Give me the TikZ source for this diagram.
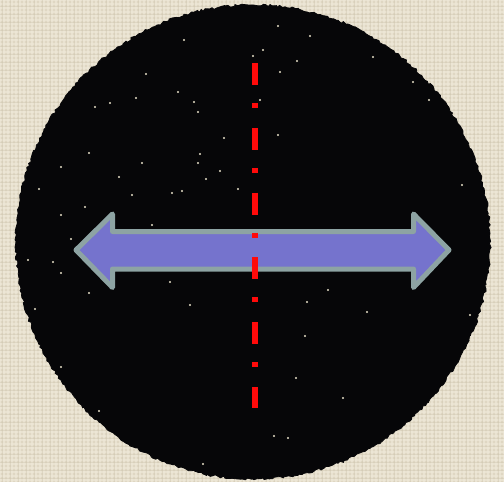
\documentclass[tikz,border=0pt]{standalone}
\usetikzlibrary{decorations.pathmorphing}
\definecolor{bgbeige}{HTML}{DFD7C3}
\definecolor{bglight}{HTML}{EEE8D8}
\definecolor{bgdark}{HTML}{CFC6AF}
\definecolor{discblack}{HTML}{060608}
\definecolor{arrowfill}{HTML}{7573CD}
\definecolor{arrowedge}{HTML}{8DA3A3}
\definecolor{axisred}{HTML}{FF0A0A}
\definecolor{starcol}{HTML}{E6DFC8}
\tikzset{
  disc/.style={fill=discblack, draw=discblack, line width=0.8pt, decorate, decoration={random steps, segment length=2.5pt, amplitude=1.2pt}},
  stardot/.style={fill=starcol, draw=none},
  axisline/.style={draw=axisred, line width=6pt, line cap=butt, dash pattern=on 22pt off 18pt on 5pt off 19.8pt},
  bigarrow/.style={fill=arrowfill, draw=arrowedge, line width=5pt, line join=round}
}
\begin{document}
\begin{tikzpicture}[x=1pt,y=-1pt]
\useasboundingbox (0,0) rectangle (504,482);
% textured background
\fill[bgbeige] (0,0) rectangle (504,482);
\foreach \i in {0,4,...,504} {\draw[bglight, line width=1.3pt, opacity=0.7] (\i,0) -- (\i,482);}
\foreach \j in {0,4,...,482} {\draw[bglight, line width=1.3pt, opacity=0.7] (0,\j) -- (504,\j);}
\foreach \i in {2,10,...,504} {\draw[bgdark, line width=0.8pt, opacity=0.4] (\i,0) -- (\i,482);}
\foreach \j in {6,14,...,482} {\draw[bgdark, line width=0.8pt, opacity=0.4] (0,\j) -- (504,\j);}
% black disc
\path[disc] (253,242) circle (237);
% specks
\foreach \p in {(278,26),(184,40),(310,36),(297,61),(146,74),(178,92),(136,98),(95,107),(110,103),(194,102),(198,112),(278,135),(224,138),(89,153),(200,154),(198,163),(142,163),(61,167),(220,171),(119,177),(206,179),(182,191),(172,193),(132,195),(238,189),(39,189),(462,185),(85,207),(61,215),(152,225),(71,239),(53,262),(28,260),(61,273),(170,282),(89,293),(328,290),(307,302),(190,305),(367,312),(470,315),(35,309),(305,336),(296,378),(343,398),(99,411),(274,436),(288,438),(203,464),(61,367),(413,82),(429,100),(373,57),(280,72),(260,100),(263,50),(253,56)}
  {\path[stardot] \p circle (1.1);}
% double arrow
\draw[bigarrow] (76,250) -- (112.5,214) -- (112.5,231.5) -- (413.5,231.5) -- (413.5,214)
  -- (449,250) -- (413.5,287.5) -- (413.5,269) -- (112.5,269) -- (112.5,287.5) -- cycle;
% red dash-dot axis, drawn over the arrow
\coordinate (axtop) at (255,63);
\coordinate (axbot) at (255,408);
\draw[axisline] (axtop) -- (axbot);
\end{tikzpicture}
\end{document}
